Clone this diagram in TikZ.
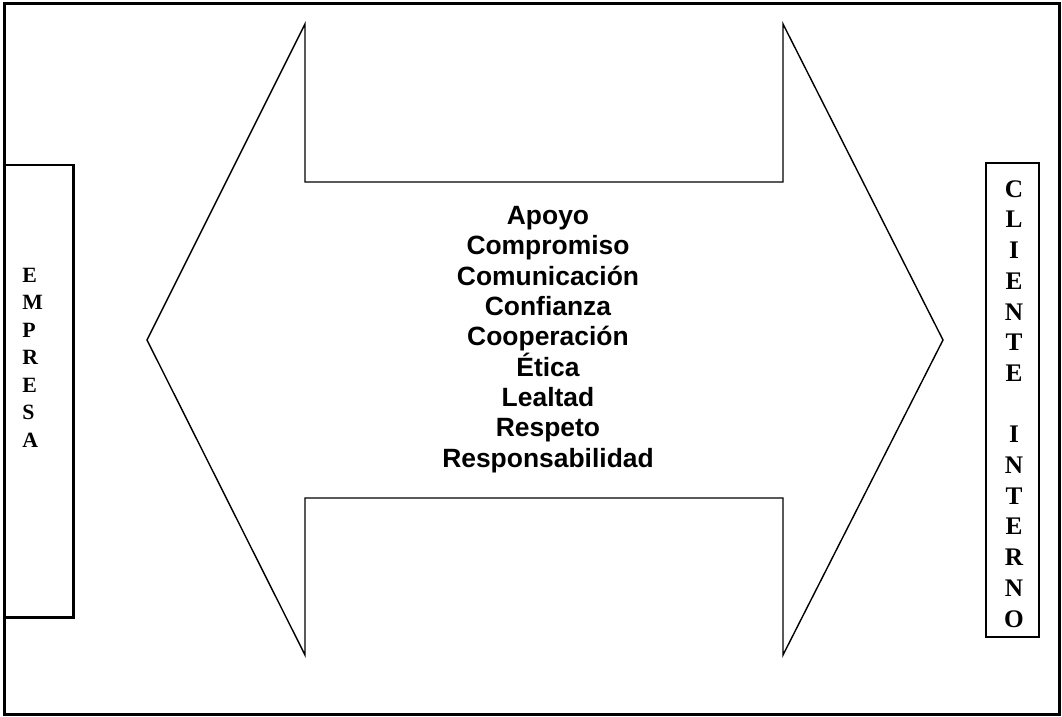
\documentclass[tikz,border=0pt]{standalone}
\usepackage{fontspec}
\setmainfont{Liberation Serif}
\newfontfamily\arialfont{Liberation Sans}

\begin{document}
\begin{tikzpicture}[
	letraE/.style={inner sep=0pt, anchor=west, font=\fontsize{15.5}{18}\selectfont\bfseries},
	letraC/.style={inner sep=0pt, font=\fontsize{18}{21}\selectfont\bfseries},
	valores/.style={align=center, inner sep=0pt, font=\arialfont\fontsize{18.8}{21.6}\selectfont\bfseries}
	]
	\useasboundingbox (0,0) rectangle (26.55,17.925);

	%marco
	\draw[line width=2pt] (0.11,0.07) rectangle (26.49,17.84);

	%flecha doble
	\draw[line width=1pt, line join=miter]
		(3.675,9.425) -- (7.625,17.325) -- (7.625,13.375) -- (19.575,13.375)
		-- (19.575,17.325) -- (23.575,9.425) -- (19.575,1.55) -- (19.575,5.475)
		-- (7.625,5.475) -- (7.625,1.55) -- cycle;

	%empresa
	\draw[line width=2pt] (0.11,2.49) rectangle (1.84,13.8);
	\foreach \l [count=\i] in {E,M,P,R,E,S,A}{
		\node[letraE] (emp\i) at (0.55, 11.05-0.6875*\i+0.6875) {\l};
	}

	%cliente interno
	\draw[line width=1pt] (24.65,2.0) rectangle (25.975,13.85);
	\foreach \l [count=\i] in {C,L,I,E,N,T,E}{
		\node[letraC] (cli\i) at (25.35, 13.2-0.7675*\i+0.7675) {\l};
	}
	\foreach \l [count=\i] in {I,N,T,E,R,N,O}{
		\node[letraC] (int\i) at (25.35, 7.06-0.7675*\i+0.7675) {\l};
	}

	%valores
	\node[valores] (val) at (13.7, 9.44) {Apoyo\\Compromiso\\Comunicación\\Confianza\\Cooperación\\Ética\\Lealtad\\Respeto\\Responsabilidad};
\end{tikzpicture}
\end{document}
